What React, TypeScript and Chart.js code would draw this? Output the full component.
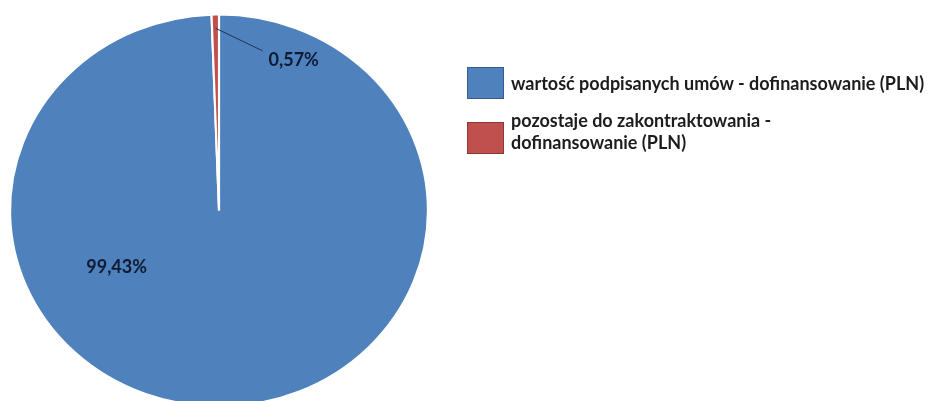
import React, { useEffect, useRef } from "react";
import { Chart, registerables } from "chart.js";

Chart.register(...registerables);

const labels = [
  "wartość podpisanych umów - dofinansowanie (PLN)",
  "pozostaje do zakontraktowania - dofinansowanie (PLN)",
];
const legendLines = [
  ["wartość podpisanych umów - dofinansowanie (PLN)"],
  ["pozostaje do zakontraktowania -", "dofinansowanie (PLN)"],
];
const values = [99.43, 0.57];
const valueLabels = ["99,43%", "0,57%"];
const colors = ["#4F81BD", "#C0504D"];
const borderColors = ["#385D8A", "#8C3836"];

const STRETCH_X = 210 / 197;

const ellipsePlugin = {
  id: "ellipse",
  beforeDatasetsDraw(chart: any) {
    const arc = chart.getDatasetMeta(0).data[0];
    const ctx = chart.ctx;
    ctx.save();
    ctx.translate(arc.x, arc.y);
    ctx.scale(STRETCH_X, 1);
    ctx.translate(-arc.x, -arc.y);
  },
  afterDatasetsDraw(chart: any) {
    chart.ctx.restore();
  },
};

const labelPlugin = {
  id: "pieLabels",
  afterDraw(chart: any) {
    const ctx = chart.ctx;
    const meta = chart.getDatasetMeta(0);
    const big = meta.data[0];
    const small = meta.data[1];
    const r = big.outerRadius;
    ctx.save();
    ctx.font = "bold 18px Lato";
    ctx.fillStyle = "#0E1B33";
    ctx.textBaseline = "middle";
    // big slice label (inside, lower left)
    ctx.textAlign = "center";
    ctx.fillText(valueLabels[0], big.x - r * 0.49 * STRETCH_X, big.y + r * 0.29);
    // small slice label with leader line
    const mid = (small.startAngle + small.endAngle) / 2;
    const sx = small.x + Math.cos(mid) * r * 0.93 * STRETCH_X;
    const sy = small.y + Math.sin(mid) * r * 0.93;
    const ex = sx + r * 0.24;
    const ey = sy + r * 0.115;
    ctx.strokeStyle = "#1F3458";
    ctx.lineWidth = 1;
    ctx.beginPath();
    ctx.moveTo(sx, sy);
    ctx.lineTo(ex, ey);
    ctx.stroke();
    ctx.textAlign = "left";
    ctx.fillText(valueLabels[1], ex + 6, ey + 9);
    ctx.restore();
  },
};

export default function App() {
  const ref = useRef<HTMLCanvasElement>(null);
  useEffect(() => {
    document.body.style.margin = "0";
    const chart = new Chart(ref.current!, {
      type: "pie",
      data: {
        labels,
        datasets: [
          {
            data: values,
            backgroundColor: colors,
            borderColor: "#FFFFFF",
            borderWidth: 2,
          },
        ],
      },
      options: {
        animation: false,
        responsive: false,
        events: [],
        layout: { padding: { left: 22, right: 515, top: 13, bottom: 12 } },
        plugins: { legend: { display: false }, tooltip: { enabled: false } },
      },
      plugins: [ellipsePlugin, labelPlugin],
    });
    return () => chart.destroy();
  }, []);

  return (
    <div
      style={{
        position: "absolute",
        left: 0,
        top: 0,
        width: 931,
        height: 401,
        overflow: "hidden",
        background: "#fff",
      }}
    >
      <canvas ref={ref} width={931} height={420} style={{ position: "absolute", left: 0, top: 0 }} />
      {legendLines.map((lines, i) => (
        <div
          key={i}
          style={{
            position: "absolute",
            left: 467,
            top: i === 0 ? 67 : 122,
            display: "flex",
            alignItems: "flex-start",
          }}
        >
          <div
            style={{
              width: 35,
              height: 30,
              background: colors[i],
              border: `1px solid ${borderColors[i]}`,
              flex: "none",
            }}
          />
          <div
            style={{
              marginLeft: 7,
              marginTop: i === 0 ? 5 : -13,
              font: "bold 18px Lato",
              lineHeight: "22px",
              color: "#1C1C1C",
              whiteSpace: "nowrap",
            }}
          >
            {lines.map((t, j) => (
              <div key={j}>{t}</div>
            ))}
          </div>
        </div>
      ))}
    </div>
  );
}
